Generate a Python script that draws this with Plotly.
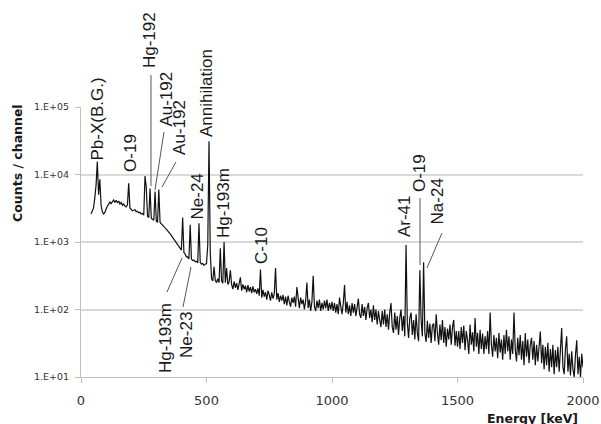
import numpy as np
import plotly.graph_objects as go

# Energy grid (keV) of the spectrum channels shown
energy_start = 40
energy_step = 5

# Counts per channel (one value per 5 keV, 40..2000 keV)
counts_040_095 = [2600, 2900, 3200, 4500, 7000, 15500, 5000, 8500, 3500, 2800, 2600, 2750]
counts_100_195 = [3100, 3400, 3600, 3950, 3700, 4050, 4200, 3850, 4150, 3800,
                  4050, 3650, 3850, 3500, 3650, 3400, 3300, 3550, 7400, 3200]
counts_200_295 = [3050, 2900, 2950, 3000, 2800, 2850, 2700, 2750, 2600, 2650,
                  2500, 9500, 6500, 2400, 2300, 6200, 2250, 2150, 2100, 5600]
counts_300_395 = [2050, 1950, 6000, 1950, 1850, 1780, 1650, 1620, 1550, 1480,
                  1400, 1330, 1250, 1170, 1100, 1020, 950, 900, 830, 800]
counts_400_495 = [760, 2300, 700, 660, 600, 600, 560, 1800, 560, 530,
                  540, 510, 520, 490, 1900, 500, 470, 480, 450, 470]
counts_500_595 = [480, 900, 31000, 700, 290, 265, 430, 270, 250, 285,
                  250, 810, 265, 245, 1000, 250, 410, 235, 255, 380]
counts_600_695 = [235, 200, 260, 210, 245, 195, 230, 300, 190, 235,
                  200, 225, 180, 230, 185, 215, 175, 220, 180, 200]
counts_700_795 = [170, 205, 160, 390, 150, 195, 155, 180, 140, 190,
                  165, 135, 180, 145, 170, 410, 140, 175, 130, 160]
counts_800_895 = [135, 165, 120, 155, 115, 160, 130, 110, 150, 125,
                  155, 110, 215, 135, 105, 150, 120, 140, 100, 135]
counts_900_995 = [250, 105, 140, 95, 130, 315, 110, 95, 135, 105,
                  140, 95, 125, 100, 135, 105, 140, 95, 125, 100]
counts_1000_1095 = [130, 95, 125, 90, 120, 85, 150, 110, 85, 125,
                    230, 90, 130, 85, 115, 80, 125, 90, 120, 80]
counts_1100_1195 = [115, 145, 85, 75, 120, 80, 110, 70, 105, 125,
                    75, 100, 65, 115, 70, 100, 60, 95, 70, 55]
counts_1200_1295 = [95, 60, 100, 55, 85, 50, 90, 125, 55, 45,
                    90, 50, 80, 42, 75, 100, 48, 80, 40, 900]
counts_1300_1395 = [65, 38, 75, 90, 42, 70, 36, 85, 45, 34,
                    380, 70, 40, 500, 45, 33, 68, 38, 62, 32]
counts_1400_1495 = [58, 62, 34, 85, 45, 30, 60, 35, 70, 32,
                    55, 28, 52, 36, 60, 30, 55, 70, 29, 48]
counts_1500_1595 = [28, 48, 26, 55, 32, 58, 25, 48, 35, 22,
                    60, 30, 46, 24, 75, 28, 45, 22, 50, 26]
counts_1600_1695 = [44, 22, 40, 26, 48, 22, 90, 30, 20, 42,
                    24, 38, 19, 45, 23, 36, 18, 42, 22, 50]
counts_1700_1795 = [24, 40, 18, 36, 22, 90, 26, 17, 38, 21,
                    42, 18, 34, 15, 45, 20, 36, 16, 30, 38]
counts_1800_1895 = [18, 34, 15, 30, 17, 35, 47, 16, 30, 13,
                    28, 15, 32, 12, 26, 14, 30, 11, 25, 14]
counts_1900_2000 = [28, 12, 24, 53, 14, 11, 26, 40, 12, 22,
                    10.5, 24, 13, 10, 21, 35, 11, 20, 10, 22, 14]

counts = (counts_040_095 + counts_100_195 + counts_200_295 + counts_300_395 +
          counts_400_495 + counts_500_595 + counts_600_695 + counts_700_795 +
          counts_800_895 + counts_900_995 + counts_1000_1095 + counts_1100_1195 +
          counts_1200_1295 + counts_1300_1395 + counts_1400_1495 + counts_1500_1595 +
          counts_1600_1695 + counts_1700_1795 + counts_1800_1895 + counts_1900_2000)
energy = energy_start + energy_step * np.arange(len(counts))

# Axis ticks
x_ticks = [0, 500, 1000, 1500, 2000]
y_ticks = [10, 100, 1000, 10000, 100000]
y_tick_labels = ["1.E+01", "1.E+02", "1.E+03", "1.E+04", "1.E+05"]

# Peak labels: text, energy (keV) of label centre, vertical position (paper fraction)
peak_labels = ["Pb-X(B.G.)", "O-19", "Hg-192", "Au-192", "Au-192", "Annihilation",
               "Ne-24", "Hg-193m", "C-10", "Hg-193m", "Ne-23", "Ar-41", "O-19", "Na-24"]
label_energy = [64, 195, 271, 339, 390, 502, 466, 566, 721, 335, 422, 1291, 1351, 1422]
label_pos_y = [0.9537, 0.8296, 1.2481, 1.0278, 0.9259, 1.0519, 0.6685, 0.6444,
               0.4889, 0.1444, 0.1556, 0.5963, 0.7556, 0.65]

# Leader lines (paper fractions) start -> end
leader_x0 = [0.1394, 0.1653, 0.1892, 0.1713, 0.2032, 0.6753, 0.7191]
leader_y0 = [1.1185, 0.9074, 0.7963, 0.3148, 0.2593, 0.6630, 0.5333]
leader_x1 = [0.1394, 0.1474, 0.1614, 0.2012, 0.2191, 0.6753, 0.6892]
leader_y1 = [0.7074, 0.6926, 0.7037, 0.4407, 0.4074, 0.4148, 0.4037]

fig = go.Figure()
fig.add_trace(go.Scatter(x=energy, y=counts, mode="lines",
                         line=dict(color="#111111", width=1.2), showlegend=False,
                         hoverinfo="x+y"))

label_font = dict(family="Liberation Sans, Arial, sans-serif", size=17, color="#1a1a1a")
for t, ex, py in zip(peak_labels, label_energy, label_pos_y):
    fig.add_annotation(x=ex, y=py, xref="x", yref="paper", text=t, textangle=-90,
                       showarrow=False, xanchor="center", yanchor="middle",
                       font=label_font)

for a, b, c, d in zip(leader_x0, leader_y0, leader_x1, leader_y1):
    fig.add_shape(type="line", xref="paper", yref="paper", x0=a, y0=b, x1=c, y1=d,
                  line=dict(color="#555555", width=1))

title_font = dict(family="DejaVu Sans, Verdana, sans-serif", size=12.5, color="#1a1a1a")
fig.add_annotation(x=0.899, y=-0.152, xref="paper", yref="paper",
                   text="<b>Energy [keV]</b>", showarrow=False,
                   xanchor="center", yanchor="middle", font=title_font)
fig.add_annotation(x=-0.1255, y=0.793, xref="paper", yref="paper",
                   text="<b>Counts / channel</b>", showarrow=False, textangle=-90,
                   xanchor="center", yanchor="middle", font=title_font)

fig.update_layout(
    width=601, height=424, autosize=False,
    margin=dict(l=81, r=18, t=107, b=47, autoexpand=False),
    paper_bgcolor="white", plot_bgcolor="white",
    showlegend=False,
    xaxis=dict(range=[0, 2000], tickvals=x_ticks, showgrid=False, zeroline=False,
               automargin=False,
               showline=True, linecolor="#bfbfbf", linewidth=1,
               ticks="outside", ticklen=5, tickcolor="#bfbfbf",
               ticklabelstandoff=6,
               tickfont=dict(family="DejaVu Sans, Verdana, sans-serif", size=13, color="#333333")),
    yaxis=dict(type="log", range=[1, 5], tickvals=y_ticks, ticktext=y_tick_labels,
               automargin=False,
               showgrid=True, gridcolor="#d9d9d9", gridwidth=1.5, zeroline=False,
               showline=True, linecolor="#bfbfbf", linewidth=1,
               ticks="outside", ticklen=5, tickcolor="#bfbfbf",
               ticklabelstandoff=4,
               tickfont=dict(family="DejaVu Sans, Verdana, sans-serif", size=9.5, color="#333333")),
)

post = ("document.body.style.margin='0';document.body.style.padding='0';"
        "document.body.style.overflow='hidden';")
fig.write_html("out.html", config={"responsive": False, "displayModeBar": False},
               post_script=post)
